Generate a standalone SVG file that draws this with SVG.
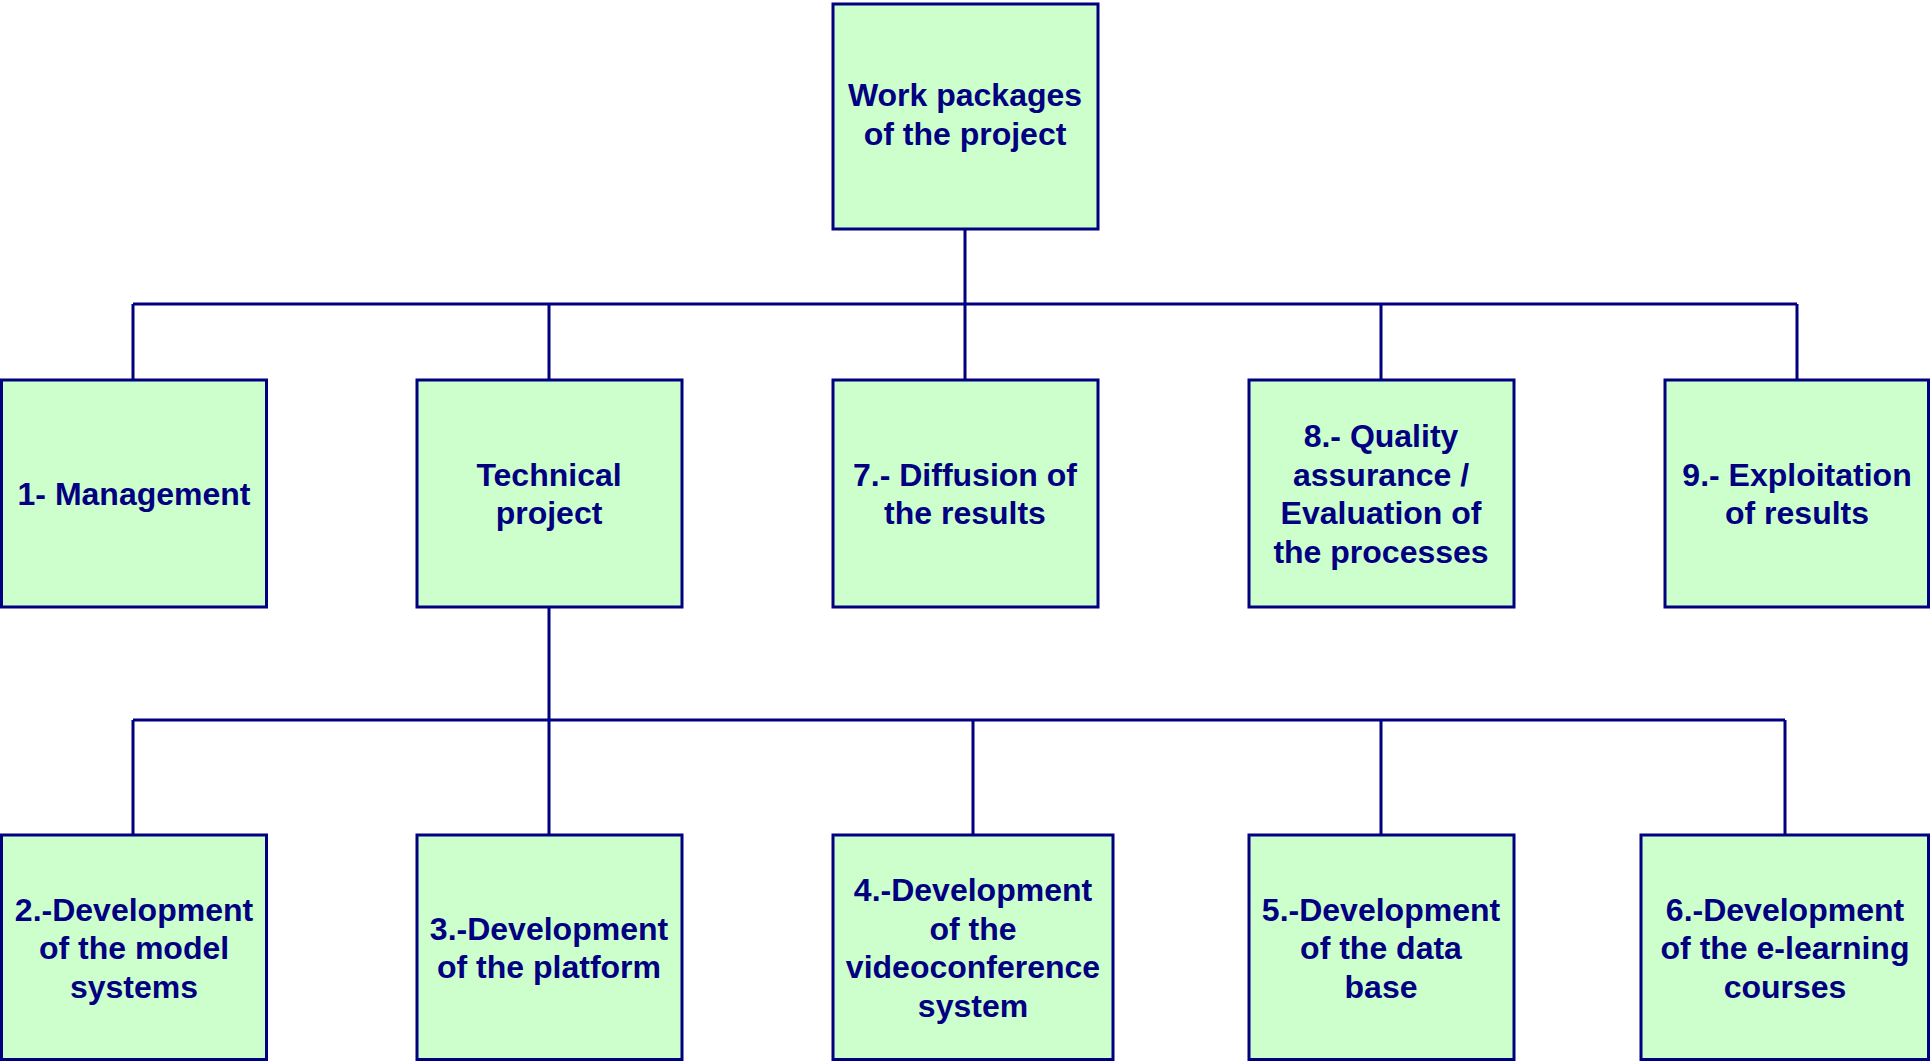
<svg xmlns="http://www.w3.org/2000/svg" width="1930" height="1061" viewBox="0 0 1930 1061">
<style>
.box{fill:#CCFFCC;stroke:#000080;stroke-width:3}
.lbl{font-family:"Liberation Sans",Arial,sans-serif;font-weight:bold;font-size:32px;fill:#000080;text-anchor:middle}
.con{fill:none;stroke:#000080;stroke-width:3}
</style>
<rect width="1930" height="1061" fill="#FFFFFF"/>
<g id="connectors">
<path class="con" d="M965,229 V304 M133,304 H1797 M133,304 V380 M549,304 V380 M965,304 V380 M1381,304 V380 M1797,304 V380"/>
<path class="con" d="M549,607 V720 M133,720 H1785 M133,720 V835 M549,720 V835 M973,720 V835 M1381,720 V835 M1785,720 V835"/>
</g>
<g id="root">
<rect class="box" x="833" y="4" width="265" height="225"/>
<text class="lbl"><tspan x="965" y="106">Work packages</tspan><tspan x="965" y="145">of the project</tspan></text>
</g>
<g id="wp1">
<rect class="box" x="1.5" y="380" width="265" height="227"/>
<text class="lbl"><tspan x="134" y="505">1- Management</tspan></text>
</g>
<g id="technical">
<rect class="box" x="417" y="380" width="265" height="227"/>
<text class="lbl"><tspan x="549" y="485.5">Technical</tspan><tspan x="549" y="524">project</tspan></text>
</g>
<g id="wp7">
<rect class="box" x="833" y="380" width="265" height="227"/>
<text class="lbl"><tspan x="965" y="485.5">7.- Diffusion of</tspan><tspan x="965" y="524">the results</tspan></text>
</g>
<g id="wp8">
<rect class="box" x="1249" y="380" width="265" height="227"/>
<text class="lbl"><tspan x="1381" y="447">8.- Quality</tspan><tspan x="1381" y="485.5">assurance /</tspan><tspan x="1381" y="524">Evaluation of</tspan><tspan x="1381" y="562.5">the processes</tspan></text>
</g>
<g id="wp9">
<rect class="box" x="1665" y="380" width="263.5" height="227"/>
<text class="lbl"><tspan x="1797" y="485.5">9.- Exploitation</tspan><tspan x="1797" y="524">of results</tspan></text>
</g>
<g id="wp2">
<rect class="box" x="1.5" y="835" width="265" height="224.5"/>
<text class="lbl"><tspan x="134" y="920.5">2.-Development</tspan><tspan x="134" y="959">of the model</tspan><tspan x="134" y="997.5">systems</tspan></text>
</g>
<g id="wp3">
<rect class="box" x="417" y="835" width="265" height="224.5"/>
<text class="lbl"><tspan x="549" y="939.5">3.-Development</tspan><tspan x="549" y="978">of the platform</tspan></text>
</g>
<g id="wp4">
<rect class="box" x="833" y="835" width="280" height="224.5"/>
<text class="lbl"><tspan x="973" y="901">4.-Development</tspan><tspan x="973" y="939.5">of the</tspan><tspan x="973" y="978">videoconference</tspan><tspan x="973" y="1016.5">system</tspan></text>
</g>
<g id="wp5">
<rect class="box" x="1249" y="835" width="265" height="224.5"/>
<text class="lbl"><tspan x="1381" y="920.5">5.-Development</tspan><tspan x="1381" y="959">of the data</tspan><tspan x="1381" y="997.5">base</tspan></text>
</g>
<g id="wp6">
<rect class="box" x="1641" y="835" width="287.5" height="224.5"/>
<text class="lbl"><tspan x="1785" y="920.5">6.-Development</tspan><tspan x="1785" y="959">of the e-learning</tspan><tspan x="1785" y="997.5">courses</tspan></text>
</g>
</svg>
